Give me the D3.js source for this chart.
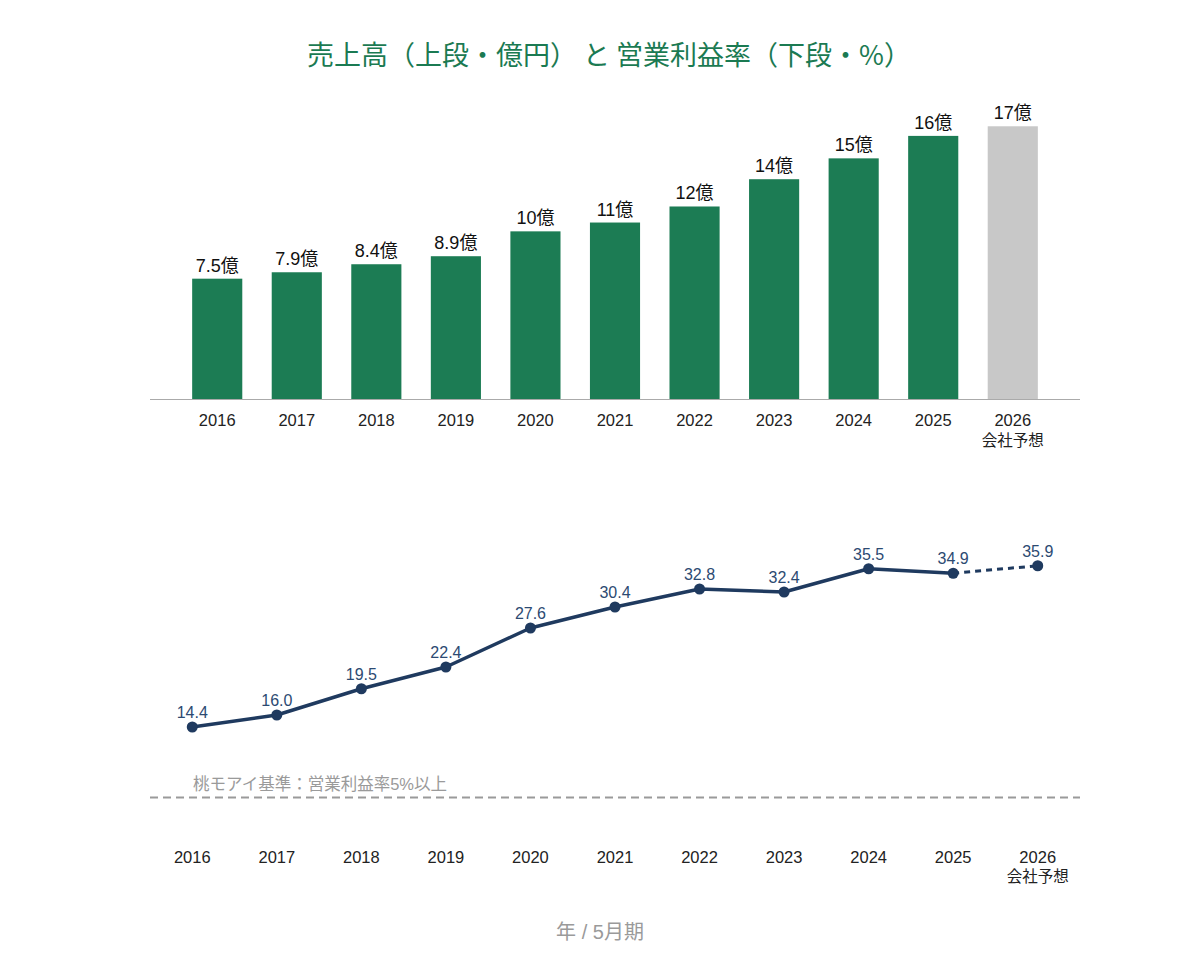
<!DOCTYPE html>
<html>
<head>
<meta charset="utf-8">
<script src="https://cdn.jsdelivr.net/npm/d3@7"></script>
<style>
  body { margin: 0; background: #fff; }
  svg text { font-family: "Liberation Sans", "Noto Sans CJK JP", sans-serif; }
</style>
</head>
<body>
<div id="chart"></div>
<script>
// Data
const years = ['2016', '2017', '2018', '2019', '2020', '2021', '2022', '2023', '2024', '2025', '2026'];
const sales = [7.5, 7.9, 8.4, 8.9, 10.45, 11.0, 12.0, 13.7, 15.0, 16.4, 17.0]; // 億円
const margin = [14.4, 16.0, 19.5, 22.4, 27.6, 30.4, 32.8, 32.4, 35.5, 34.9, 35.9]; // %
const forecastYear = '2026';
const forecastNote = '会社予想';
const benchmark = 5;

const width = 1200;
const height = 960;

const svg = d3.select('#chart')
    .append('svg')
    .attr('width', width)
    .attr('height', height);

// Title
svg.append('text')
    .attr('x', 609)
    .attr('y', 65)
    .attr('text-anchor', 'middle')
    .attr('fill', '#1b7a52')
    .attr('font-size', '27px')
    .style('font-family', '"Noto Sans CJK JP", sans-serif')
    .text('売上高（上段・億円） と 営業利益率（下段・%）');

// ---- Top: bars
const xBar = d3.scaleBand()
    .domain(years)
    .range([150, 1080])
    .paddingInner(0.37)
    .paddingOuter(0.53);

const yBar = d3.scaleLinear()
    .domain([0, 18.7])
    .range([399, 99]);

const fmtSales = v => (v < 10 ? v.toFixed(1) : Math.round(v)) + '億';

svg.selectAll('.bar')
    .data(years)
    .enter()
    .append('rect')
    .attr('class', 'bar')
    .attr('x', d => xBar(d))
    .attr('width', xBar.bandwidth())
    .attr('y', (d, i) => yBar(sales[i]))
    .attr('height', (d, i) => yBar(0) - yBar(sales[i]))
    .attr('fill', d => d === forecastYear ? '#c8c8c8' : '#1c7c54');

svg.selectAll('.bar-label')
    .data(years)
    .enter()
    .append('text')
    .attr('class', 'bar-label')
    .attr('x', d => xBar(d) + xBar.bandwidth() / 2)
    .attr('y', (d, i) => yBar(sales[i]) - 7)
    .attr('text-anchor', 'middle')
    .attr('fill', '#111')
    .attr('font-size', '18px')
    .text((d, i) => fmtSales(sales[i]));

const xAxisTop = svg.append('g')
    .attr('transform', `translate(0,${yBar(0)})`)
    .call(d3.axisBottom(xBar).tickSize(0).tickPadding(15).tickSizeOuter(0));
xAxisTop.select('.domain').attr('stroke', '#aaa').attr('d', 'M150,0.5H1080');
xAxisTop.selectAll('text')
    .attr('fill', '#222')
    .attr('font-size', '16.5px');

svg.append('text')
    .attr('x', xBar(forecastYear) + xBar.bandwidth() / 2)
    .attr('y', 446)
    .attr('text-anchor', 'middle')
    .attr('fill', '#222')
    .attr('font-size', '15.5px')
    .text(forecastNote);

// ---- Bottom: line
const xLine = d3.scaleBand()
    .domain(years)
    .range([150, 1080]);
const cx = d => xLine(d) + xLine.bandwidth() / 2;

const yLine = d3.scaleLinear()
    .domain([0, 40])
    .range([835, 535]);

// benchmark
svg.append('line')
    .attr('x1', 150)
    .attr('x2', 1080)
    .attr('y1', yLine(benchmark))
    .attr('y2', yLine(benchmark))
    .attr('stroke', '#9a9a9a')
    .attr('stroke-width', 2)
    .attr('stroke-dasharray', '8,5');

svg.append('text')
    .attr('x', 193)
    .attr('y', yLine(benchmark) - 8)
    .attr('fill', '#9a9a9a')
    .attr('font-size', '16.5px')
    .text(`桃モアイ基準：営業利益率${benchmark}%以上`);

const pts = years.map((y, i) => ({ year: y, value: margin[i] }));
const line = d3.line()
    .x(d => cx(d.year))
    .y(d => yLine(d.value));

const fi = years.indexOf(forecastYear);

svg.append('path')
    .datum(pts.slice(0, fi))
    .attr('fill', 'none')
    .attr('stroke', '#1f3a5f')
    .attr('stroke-width', 3.5)
    .attr('stroke-linejoin', 'round')
    .attr('d', line);

svg.append('path')
    .datum(pts.slice(fi - 1))
    .attr('fill', 'none')
    .attr('stroke', '#1f3a5f')
    .attr('stroke-width', 3)
    .attr('stroke-dasharray', '6,5')
    .attr('d', line);

svg.selectAll('.dot')
    .data(pts)
    .enter()
    .append('circle')
    .attr('class', 'dot')
    .attr('cx', d => cx(d.year))
    .attr('cy', d => yLine(d.value))
    .attr('r', 5.5)
    .attr('fill', '#1f3a5f');

svg.selectAll('.pt-label')
    .data(pts)
    .enter()
    .append('text')
    .attr('class', 'pt-label')
    .attr('x', d => cx(d.year))
    .attr('y', d => yLine(d.value) - 9)
    .attr('text-anchor', 'middle')
    .attr('fill', '#2c4a72')
    .attr('font-size', '16px')
    .text(d => d.value.toFixed(1));

const xAxisBottom = svg.append('g')
    .attr('transform', 'translate(0,836)')
    .call(d3.axisBottom(xLine).tickSize(0).tickPadding(15));
xAxisBottom.select('.domain').remove();
xAxisBottom.selectAll('text')
    .attr('fill', '#222')
    .attr('font-size', '16.5px');

svg.append('text')
    .attr('x', cx(forecastYear))
    .attr('y', 882)
    .attr('text-anchor', 'middle')
    .attr('fill', '#222')
    .attr('font-size', '15.5px')
    .text(forecastNote);

// footer
svg.append('text')
    .attr('x', 600)
    .attr('y', 939)
    .attr('text-anchor', 'middle')
    .attr('fill', '#9a9a9a')
    .attr('font-size', '20px')
    .text('年 / 5月期');
</script>
</body>
</html>
